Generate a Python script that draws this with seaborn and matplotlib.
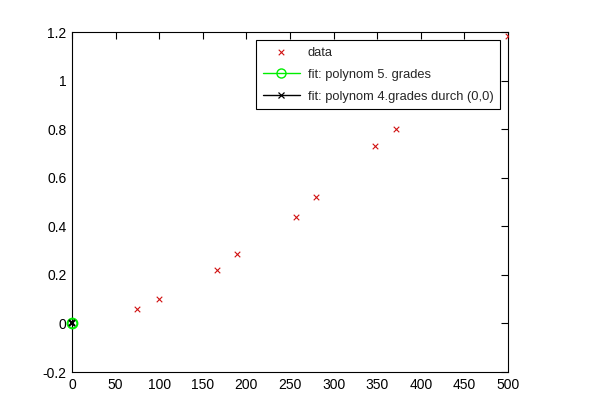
import numpy as np
import pandas as pd
import matplotlib
matplotlib.use('Agg')
import matplotlib.pyplot as plt
import seaborn as sns

# measured data
x_data = [75, 100, 166, 189, 257, 280, 348, 371, 500]
y_data = [0.06, 0.10, 0.22, 0.285, 0.44, 0.52, 0.73, 0.80, 1.185]

# fit curves (only the origin is drawn)
x_fit5 = [0]
y_fit5 = [0]
x_fit4 = [0]
y_fit4 = [0]

x_ticks = [0, 50, 100, 150, 200, 250, 300, 350, 400, 450, 500]
y_ticks = [-0.2, 0, 0.2, 0.4, 0.6, 0.8, 1, 1.2]
y_ticklabels = ['-0.2', '0', '0.2', '0.4', '0.6', '0.8', '1', '1.2']

sns.set_style('white')
plt.rcParams['font.family'] = ['Liberation Sans', 'DejaVu Sans']
plt.rcParams['font.size'] = 10

fig = plt.figure(figsize=(5.94, 4.12), dpi=100)
ax = fig.add_axes([72/594, 40/412, 436/594, 340/412])

df = pd.DataFrame({'x': x_data, 'y': y_data})
sns.scatterplot(data=df, x='x', y='y', marker='x', color='#d01010', s=16,
                linewidth=0.8, ax=ax, label='data', zorder=3)
ax.plot(x_fit5, y_fit5, '-o', color='#00ee00', markerfacecolor='none',
        markersize=7, markeredgewidth=1.5, linewidth=1, label='fit: polynom 5. grades',
        clip_on=False, zorder=4)
ax.plot(x_fit4, y_fit4, '-x', color='black', markersize=5, markeredgewidth=1.5,
        linewidth=1, label='fit: polynom 4.grades durch (0,0)', clip_on=False, zorder=5)

ax.set_xlim(0, 500)
ax.set_ylim(-0.2, 1.2)
ax.set_xticks(x_ticks)
ax.set_xticklabels([str(t) for t in x_ticks])
ax.set_yticks(y_ticks)
ax.set_yticklabels(y_ticklabels)
ax.set_xlabel('')
ax.set_ylabel('')
ax.tick_params(direction='in', top=True, right=True, length=5, width=0.8,
               labelsize=10, colors='black', pad=4)
for sp in ax.spines.values():
    sp.set_visible(True)
    sp.set_color('black')
    sp.set_linewidth(0.8)

leg = ax.legend(loc='upper right', bbox_to_anchor=(0.982, 0.976), borderaxespad=0,
                fancybox=False, framealpha=1, edgecolor='black', borderpad=0.5,
                labelspacing=0.78, handlelength=2.9, handletextpad=0.6, fontsize=9.3)
leg.get_frame().set_linewidth(0.8)
# thinner marker edges inside the legend handles
handles = leg.legend_handles
handles[1].set_markeredgewidth(1.0)
handles[1].set_markersize(6.5)
handles[2].set_markeredgewidth(0.9)
handles[2].set_markersize(4)

fig.savefig('out.png', dpi=100, facecolor='white')
